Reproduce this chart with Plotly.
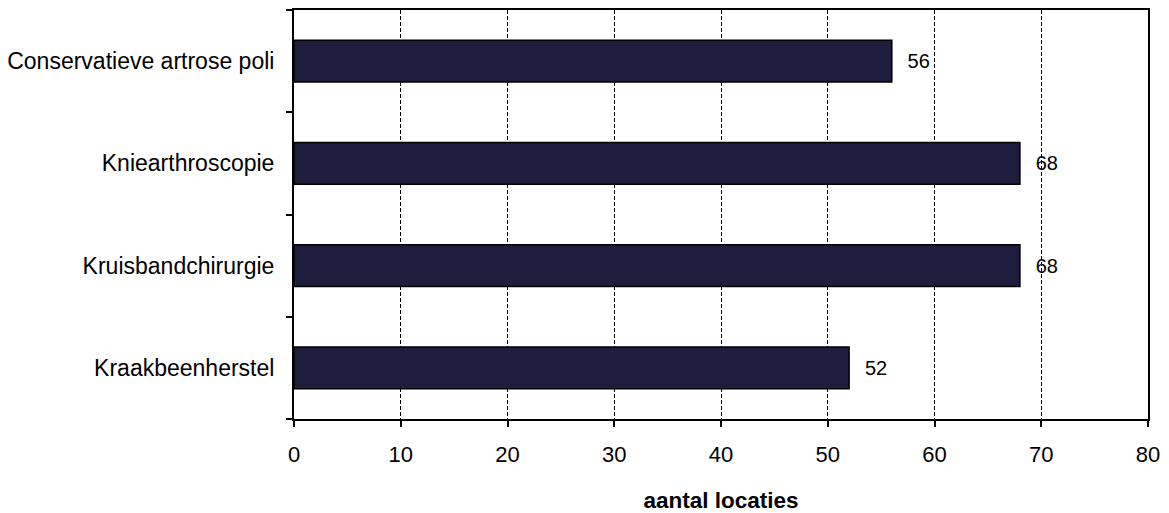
import plotly.graph_objects as go

categories = ["Kraakbeenherstel", "Kruisbandchirurgie", "Kniearthroscopie", "Conservatieve artrose poli"]
values = [52, 68, 68, 56]
x_ticks = [0, 10, 20, 30, 40, 50, 60, 70, 80]

FONT = "Liberation Sans, Arial, sans-serif"

fig = go.Figure(go.Bar(
    y=categories,
    x=values,
    orientation="h",
    marker=dict(color="#1F1D3D", line=dict(color="#000000", width=1.5)),
    text=["\u00a0\u00a0\u200a" + str(v) for v in values],
    textposition="outside",
    textfont=dict(family=FONT, size=20, color="#000000"),
    cliponaxis=False,
    width=0.41,
))

fig.update_layout(
    width=1169,
    height=513,
    margin=dict(l=294, r=21, t=10, b=94, autoexpand=False),
    paper_bgcolor="white",
    plot_bgcolor="white",
    font=dict(family=FONT, size=20, color="#000000"),
    showlegend=False,
)

fig.update_xaxes(
    automargin=False,
    range=[0, 80],
    tickvals=x_ticks,
    ticktext=[str(t) for t in x_ticks],
    showgrid=True,
    gridcolor="#000000",
    gridwidth=1,
    griddash="4px,2px",
    showline=True,
    linecolor="#000000",
    linewidth=2,
    mirror=True,
    ticks="outside",
    ticklen=6,
    tickwidth=1.5,
    tickcolor="#000000",
    zeroline=False,
    tickfont=dict(size=22),
    ticklabelstandoff=9,
    title=dict(text="<b>aantal locaties</b>", font=dict(size=22.5), standoff=26),
)

fig.update_yaxes(
    automargin=False,
    categoryorder="array",
    categoryarray=categories,
    showline=True,
    linecolor="#000000",
    linewidth=2,
    mirror=True,
    ticks="outside",
    tickson="boundaries",
    ticklen=6,
    tickwidth=1.5,
    tickcolor="#000000",
    showgrid=False,
    tickfont=dict(size=23),
    ticklabelstandoff=13,
)

fig.write_html(
    "out.html",
    config={"displayModeBar": False},
    post_script="document.body.style.margin='0';document.body.style.overflow='hidden';",
)
